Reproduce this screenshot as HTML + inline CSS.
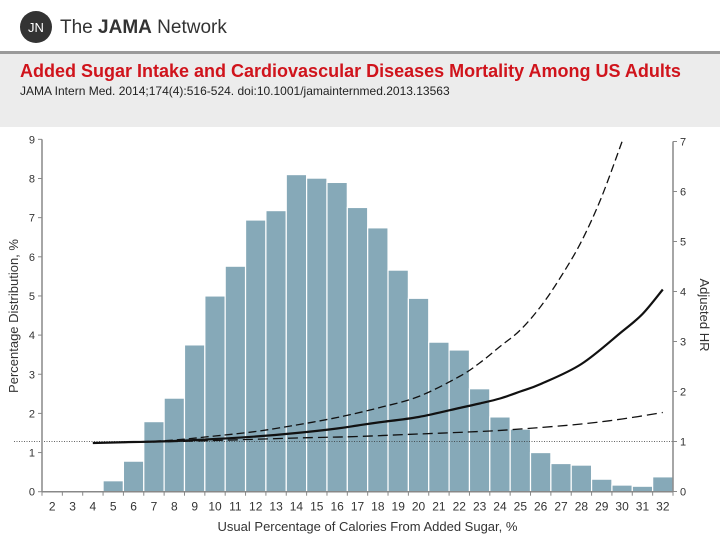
<!DOCTYPE html>
<html><head><meta charset="utf-8">
<style>
html,body{margin:0;padding:0;width:720px;height:540px;overflow:hidden;background:#fff;font-family:"Liberation Sans",sans-serif;}
#hdr{position:absolute;left:0;top:0;width:720px;height:51px;background:#fff;}
#rule{position:absolute;left:0;top:51px;width:720px;height:3px;background:#9a9a9a;}
#band{position:absolute;left:0;top:54px;width:720px;height:73px;background:#ececec;}
#title{position:absolute;left:20px;top:61px;font-size:18px;font-weight:bold;color:#d0141c;white-space:nowrap;}
#cite{position:absolute;left:20px;top:84px;font-size:12px;color:#222;white-space:nowrap;}
#chart{position:absolute;left:0;top:127px;}
</style></head><body>
<div id="hdr">
  <svg width="260" height="51">
    <circle cx="36" cy="27" r="16" fill="#333"/>
    <text x="36" y="32" text-anchor="middle" font-size="13" fill="#fff" font-family="Liberation Sans">JN</text>
    <text x="60" y="33" font-size="19" fill="#333" font-family="Liberation Sans">The <tspan font-weight="bold">JAMA</tspan> Network</text>
  </svg>
</div>
<div id="rule"></div>
<div id="band"></div>
<div id="title">Added Sugar Intake and Cardiovascular Diseases Mortality Among US Adults</div>
<div id="cite">JAMA Intern Med. 2014;174(4):516-524. doi:10.1001/jamainternmed.2013.13563</div>
<svg id="chart" width="720" height="413"></svg>
<script>
const binLabels=[2,3,4,5,6,7,8,9,10,11,12,13,14,15,16,17,18,19,20,21,22,23,24,25,26,27,28,29,30,31,32];
const binValues=[0,0,0.03,0.28,0.78,1.79,2.39,3.75,5.0,5.76,6.94,7.18,8.1,8.01,7.9,7.26,6.74,5.66,4.94,3.82,3.62,2.63,1.91,1.6,1.0,0.72,0.68,0.32,0.17,0.14,0.38];
const leftTicks=[0,1,2,3,4,5,6,7,8,9];
const rightTicks=[0,1,2,3,4,5,6,7];
const hrX=[4,6,8,10,12,14,16,17,18,20,22,23,24,25,26,28,30,31,32];
const hrMain=[0.97,0.99,1.01,1.05,1.1,1.17,1.26,1.32,1.38,1.49,1.67,1.76,1.86,2.0,2.15,2.55,3.2,3.55,4.04];
const upX=[4,6,8,10,12,14,16,18,20,22,23,24,25,26,27,28,29,30];
const hrUpper=[0.97,0.99,1.03,1.11,1.2,1.33,1.48,1.67,1.9,2.3,2.57,2.9,3.23,3.7,4.3,5.0,5.9,7.0];
const loX=[4,8,10,14,17,20,23,25,28,30,32];
const hrLower=[0.97,1.0,1.02,1.07,1.1,1.15,1.2,1.25,1.35,1.45,1.58];

const OY=127;
const axL=42, axR=673, binW=(axR-axL)/binLabels.length;
const yL=v=>491.7-OY-v*39.15;
const yR=v=>491.5-OY-v*50.0;
const xBinLeft=i=>axL+i*binW;
const xVal=v=>axL+(v-binLabels[0]+0.5)*binW;
const svg=document.getElementById('chart');
const NS='http://www.w3.org/2000/svg';
function mk(t,a,p){const e=document.createElementNS(NS,t);for(const k in a)e.setAttribute(k,a[k]);(p||svg).appendChild(e);return e;}

binValues.forEach((v,i)=>{
  if(v<=0)return;
  const r=mk('rect',{x:xBinLeft(i),y:yL(v),width:binW,height:yL(0)-yL(v),fill:'#86a9b8',stroke:'#fff','stroke-width':1.2});
  
  
});
const ref=mk('line',{x1:14,x2:axR,y1:yR(1),y2:yR(1),stroke:'#333','stroke-width':0.8,'stroke-dasharray':'1,1.5'});


function line(xs,ys,name,dash,w){
  const P=xs.map((x,i)=>[xVal(x),yR(ys[i])]);
  let d='M'+P[0][0].toFixed(1)+','+P[0][1].toFixed(1);
  for(let i=0;i<P.length-1;i++){
    const p0=P[i-1]||P[i],p1=P[i],p2=P[i+1],p3=P[i+2]||P[i+1];
    const c1=[p1[0]+(p2[0]-p0[0])/6,p1[1]+(p2[1]-p0[1])/6];
    const c2=[p2[0]-(p3[0]-p1[0])/6,p2[1]-(p3[1]-p1[1])/6];
    d+=' C'+c1.map(v=>v.toFixed(1)).join(',')+' '+c2.map(v=>v.toFixed(1)).join(',')+' '+p2.map(v=>v.toFixed(1)).join(',');
  }
  const p=mk('path',{d:d,fill:'none',stroke:'#111','stroke-width':w,'stroke-dasharray':dash,'stroke-linejoin':'round'});
  
  
}
line(loX,hrLower,'hr-lower-ci','10,5',1.3);
line(upX,hrUpper,'hr-upper-ci','8,4',1.3);
line(hrX,hrMain,'hr-estimate','',2.2);

const la=mk('line',{x1:axL,x2:axL,y1:yL(9),y2:yL(0),stroke:'#888','stroke-width':1.5});


const ra=mk('line',{x1:axR,x2:axR,y1:yR(7),y2:yR(0),stroke:'#888','stroke-width':1.5});


const xa=mk('line',{x1:axL,x2:axR,y1:yL(0),y2:yL(0),stroke:'#888','stroke-width':1.5});


leftTicks.forEach(t=>{
  mk('line',{x1:axL-4,x2:axL,y1:yL(t),y2:yL(t),stroke:'#888'});
  const tx=mk('text',{x:axL-7,y:yL(t)+4,'text-anchor':'end','font-size':11,fill:'#333'});
  tx.textContent=t;
  
  
});
rightTicks.forEach(t=>{
  mk('line',{x1:axR,x2:axR+4,y1:yR(t),y2:yR(t),stroke:'#888'});
  const tx=mk('text',{x:axR+7,y:yR(t)+4,'font-size':11,fill:'#333'});
  tx.textContent=t;
  
  
});
for(let i=0;i<=binLabels.length;i++) mk('line',{x1:xBinLeft(i),x2:xBinLeft(i),y1:yL(0),y2:yL(0)+4,stroke:'#888'});
binLabels.forEach((b,i)=>{
  const tx=mk('text',{x:xBinLeft(i)+binW/2,y:yL(0)+19,'text-anchor':'middle','font-size':12,fill:'#333'});
  tx.textContent=b;
  
  
});
const xt=mk('text',{x:(axL+axR)/2+10,y:531-OY,'text-anchor':'middle','font-size':13,fill:'#333'});
xt.textContent='Usual Percentage of Calories From Added Sugar, %';


const yt=mk('text',{x:0,y:0,'text-anchor':'middle','font-size':13,fill:'#333',transform:'translate(18,'+(316-OY)+') rotate(-90)'});
yt.textContent='Percentage Distribution, %';


const rt=mk('text',{x:0,y:0,'text-anchor':'middle','font-size':13,fill:'#333',transform:'translate(700,'+(315-OY)+') rotate(90)'});
rt.textContent='Adjusted HR';


</script>
</body></html>
